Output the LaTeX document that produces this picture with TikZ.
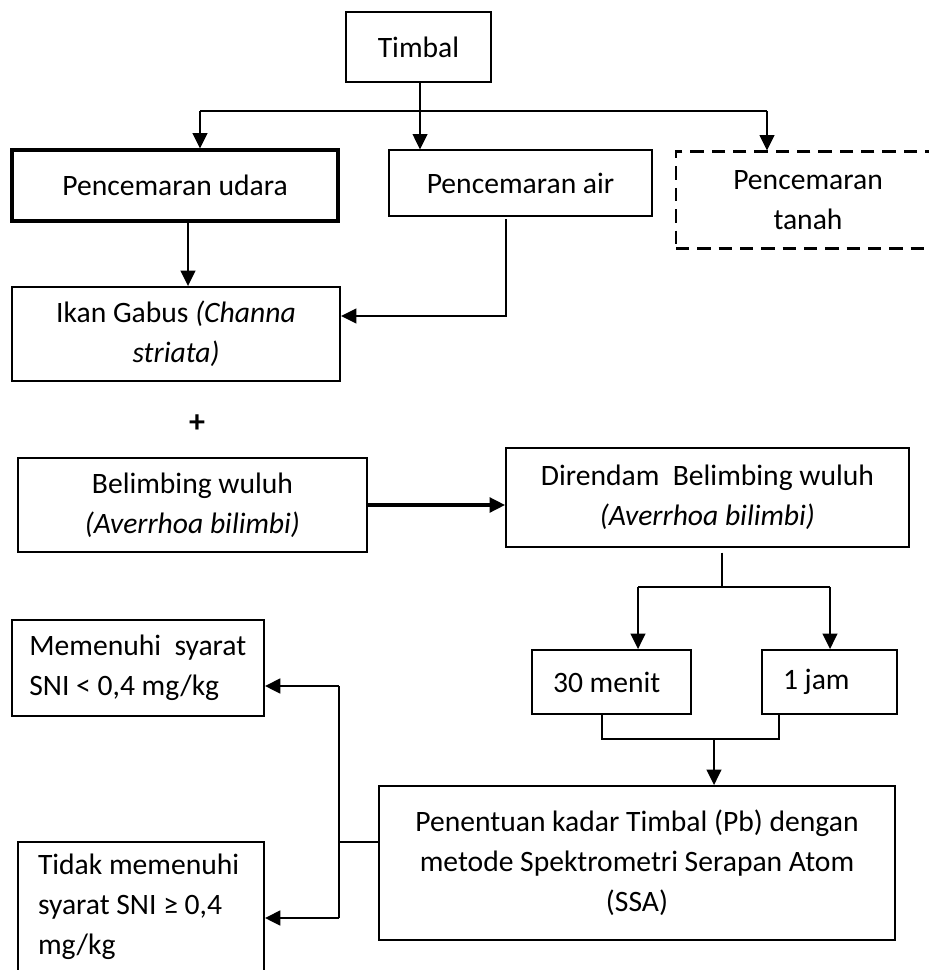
\documentclass[tikz,border=0pt]{standalone}
\usepackage{fontspec}
\setmainfont{Carlito}
\usepackage{tikz}
\usetikzlibrary{arrows.meta, positioning}

\begin{document}
\begin{tikzpicture}[
    x=0.75pt, y=-0.75pt,
    box/.style={rectangle, draw=black, line width=1.4pt, align=center, inner sep=0pt,
        font=\fontsize{22.2}{30}\selectfont},
    thickbox/.style={box, line width=2.3pt},
    thinbox/.style={box, line width=0.9pt},
    dashbox/.style={box, line width=1.6pt, dash pattern=on 10pt off 6pt},
    leftbox/.style={box, align=flush left, inner xsep=15.75pt},
    arr/.style={-{Triangle[length=11.5pt, width=11pt]}, line width=1.4pt},
    link/.style={line width=1.4pt}
]
\useasboundingbox (0,0) rectangle (928,970);

% Boxes (centre at pixel coordinates)
\node[box, minimum width=108.75pt, minimum height=52.5pt] (timbal) at (418.5,47) {Timbal};
\node[thickbox, minimum width=244.5pt, minimum height=53.25pt] (udara) at (175,185.5) {Pencemaran udara};
\node[thinbox, minimum width=197.25pt, minimum height=49.5pt] (air) at (520.5,183) {Pencemaran air};
\node[dashbox, minimum width=198pt, minimum height=72.75pt] (tanah) at (808,200) {Pencemaran\\tanah};
\node[box, minimum width=246pt, minimum height=70.5pt] (ikan) at (176,334) {Ikan Gabus \textit{(Channa}\\\textit{striata)}};
\node[font=\fontsize{24}{30}\selectfont\bfseries] (plus) at (197,424) {+};
\node[box, minimum width=261.75pt, minimum height=70.5pt] (belimbing) at (192.5,505) {Belimbing wuluh\\\textit{(Averrhoa bilimbi)}};
\node[box, minimum width=302.25pt, minimum height=74.25pt] (direndam) at (707.5,497.5) {Direndam \ Belimbing wuluh\\\textit{(Averrhoa bilimbi)}};
\node[leftbox, text width=87.75pt, minimum height=48pt] (menit) at (611.5,682) {30 menit};
\node[leftbox, text width=69.75pt, minimum height=48pt] (jam) at (829.5,682) {1 jam};
\node[leftbox, inner xsep=13pt, text width=163pt, minimum height=72pt] (memenuhi) at (138,668) {Memenuhi \ syarat\\SNI < 0,4 mg/kg};
\node[box, minimum width=387pt, minimum height=115.5pt] (penentuan) at (637,863) {Penentuan kadar Timbal (Pb) dengan\\metode Spektrometri Serapan Atom\\(SSA)};
\node[leftbox, inner xsep=15pt, text width=154.5pt, minimum height=97.5pt] (tidak) at (141,907) {Tidak memenuhi\\syarat SNI ≥ 0,4\\mg/kg};

% Junction points
\coordinate (j1) at (420,111);
\coordinate (pu) at (200,111);
\coordinate (pt) at (767,111);
\coordinate (ui) at (188,0);
\coordinate (ai) at (506,316);
\coordinate (ds) at (722,587);
\coordinate (dl) at (638,587);
\coordinate (dr) at (830,587);
\coordinate (ml) at (602,739);
\coordinate (mr) at (779,739);
\coordinate (mj) at (714,739);
\coordinate (po) at (339,842);
\coordinate (pa) at (339,686);
\coordinate (pb) at (339,918);

% Timbal branches
\draw[link] (j1 |- timbal.south) -- (j1);
\draw[link] (pu) -- (pt);
\draw[arr] (pu) -- (pu |- udara.north);
\draw[arr] (j1) -- (j1 |- air.north);
\draw[arr] (pt) -- (pt |- tanah.north);

% Into Ikan Gabus
\draw[arr] (udara.south -| ui) -- (ikan.north -| ui);
\draw[arr, shorten <=2pt] (air.south -| ai) |- (ikan.east |- ai);

% Soaking
\draw[arr, line width=2.3pt] (belimbing.east) -- (belimbing.east -| direndam.west);
\draw[link, shorten <=3.5pt] (direndam.south -| ds) -- (ds);
\draw[link] (dl) -- (dr);
\draw[arr] (dl) -- (dl |- menit.north);
\draw[arr] (dr) -- (dr |- jam.north);

% Join to Penentuan
\draw[link] (menit.south -| ml) -- (ml) -- (mr) -- (jam.south -| mr);
\draw[arr] (mj) -- (mj |- penentuan.north);

% Results
\draw[link] (penentuan.west |- po) -- (po);
\draw[link] (pa) -- (pb);
\draw[arr, line width=1.8pt] (pa) -- (pa -| memenuhi.east);
\draw[arr, line width=1.8pt] (pb) -- (pb -| tidak.east);

\end{tikzpicture}
\end{document}
